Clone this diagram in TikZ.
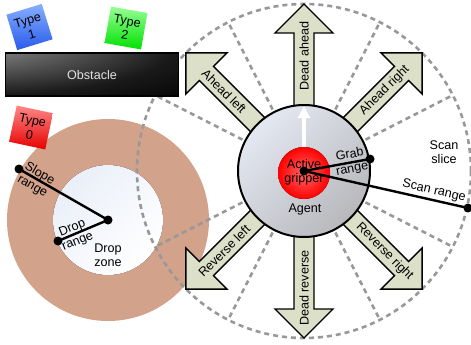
\documentclass[tikz,border=0pt]{standalone}
\usepackage{fontspec}
\setmainfont{Liberation Sans}
\usetikzlibrary{arrows.meta,calc}

\definecolor{tanring}{RGB}{211,162,138}
\definecolor{arrowfill}{RGB}{221,224,201}
\definecolor{dashgray}{RGB}{152,152,152}
\definecolor{agentlight}{RGB}{228,232,242}
\definecolor{agentdark}{RGB}{184,184,188}
\definecolor{droplight}{RGB}{234,239,248}
\definecolor{redlight}{RGB}{255,105,105}
\definecolor{obsttext}{RGB}{225,225,225}

\pgfdeclareradialshading{obstshade}{\pgfpoint{-50bp}{50bp}}{rgb(0bp)=(0.85,0.85,0.85); rgb(25bp)=(0.45,0.45,0.45); rgb(55bp)=(0.1,0.1,0.1); rgb(78bp)=(0,0,0); rgb(150bp)=(0,0,0)}

\tikzset{
  lbl/.style={font=\fontsize{12.6}{14.5}\selectfont, align=center, inner sep=0pt},
  dirarrow/.style={fill=arrowfill, draw=black, line width=1.4pt, line join=miter},
  dashline/.style={draw=dashgray, line width=2.6pt, dash pattern=on 5pt off 4pt},
  rangeline/.style={draw=black, line width=2.4pt, line cap=round},
  typebox/.style={lbl, minimum size=37pt, shading angle=45},
  dotmark/.style={circle, fill=black, inner sep=0pt, minimum size=9pt},
}

\begin{document}
\begin{tikzpicture}[x=1pt,y=1pt]
\useasboundingbox (0,0) rectangle (471,-345);

% Drop zone
\coordinate (dz) at (108,-220);
\fill[tanring] (dz) circle (101);
\fill[top color=droplight, bottom color=white, shading angle=45] (dz) circle (55);

% Scan area
\coordinate (ag) at (304,-171);
\draw[dashline] (ag) circle (167);
\foreach \a in {27,63,117,153,207,243,297,333}
  \draw[dashline] ($(ag)+(\a:60)$) -- ($(ag)+(\a:167)$);

% Obstacle
\node[draw=black, line width=1.2pt, shade, shading=obstshade, minimum width=173pt, minimum height=43pt, lbl, text=obsttext] (obst) at (92,-74.5) {Obstacle};

% Type boxes
\node[typebox, rotate=17, top color={rgb,255:red,135;green,175;blue,255}, bottom color={rgb,255:red,40;green,90;blue,235}] (t1) at (29.5,-27) {Type\\1};
\node[typebox, rotate=-10, top color={rgb,255:red,150;green,255;blue,150}, bottom color={rgb,255:red,0;green,225;blue,0}] (t2) at (126,-28) {Type\\2};
\node[typebox, rotate=-12, top color={rgb,255:red,255;green,135;blue,135}, bottom color={rgb,255:red,230;green,0;blue,0}] (t0) at (31,-127.5) {Type\\0};

% Direction arrows
\begin{scope}[shift={(ag)}]
  \foreach \a in {45,90,135,225,270,315}
    \path[dirarrow, rotate=\a] (40,-10) -- (138,-10) -- (138,-29) -- (167,0) -- (138,29) -- (138,10) -- (40,10) -- cycle;
  \node[lbl, rotate=90] (lda) at (90:115) {Dead ahead};
  \node[lbl, rotate=45] (lar) at (45:114) {Ahead right};
  \node[lbl, rotate=-45] (lal) at (135:113) {Ahead left};
  \node[lbl, rotate=45] (lrl) at (225:113) {Reverse left};
  \node[lbl, rotate=90] (ldr) at (270:117) {Dead reverse};
  \node[lbl, rotate=-45] (lrr) at (315:114) {Reverse right};
\end{scope}

% Agent
\draw[line width=2pt, top color=agentlight, bottom color=agentdark, shading angle=45] (ag) circle (66);
\fill[inner color=redlight, outer color=red] (304,-173) circle (26);
\draw[white, line width=3.5pt, -{Triangle[width=12pt,length=12pt]}] (304,-147) -- (304,-106);

% Ranges
\coordinate (grab) at (370,-159);
\coordinate (scan) at (468,-208);
\coordinate (slope) at (19,-169);
\coordinate (drop) at (58,-241);
\draw[rangeline] (ag) -- (grab);
\draw[rangeline] (ag) -- (scan);
\draw[rangeline] (dz) -- (slope);
\draw[rangeline] (dz) -- (drop);
\foreach \p in {ag,grab,scan,slope,drop,dz}
  \node[dotmark] at (\p) {};

% Labels
\node[lbl] (lgrip) at (304,-172) {Active\\gripper};
\node[lbl] (lagent) at (305,-209) {Agent};
\node[lbl, rotate=10] (lgrab) at (351,-162) {Grab\\range};
\node[lbl, rotate=-13] (lscan) at (434,-191) {Scan range};
\node[lbl] (lslice) at (444,-152) {Scan\\slice};
\node[lbl, rotate=-30] (lslope) at (36,-180) {Slope\\range};
\node[lbl, rotate=22] (ldrop) at (75,-235) {Drop\\range};
\node[lbl] (lzone) at (108,-255) {Drop\\zone};
\end{tikzpicture}
\end{document}
